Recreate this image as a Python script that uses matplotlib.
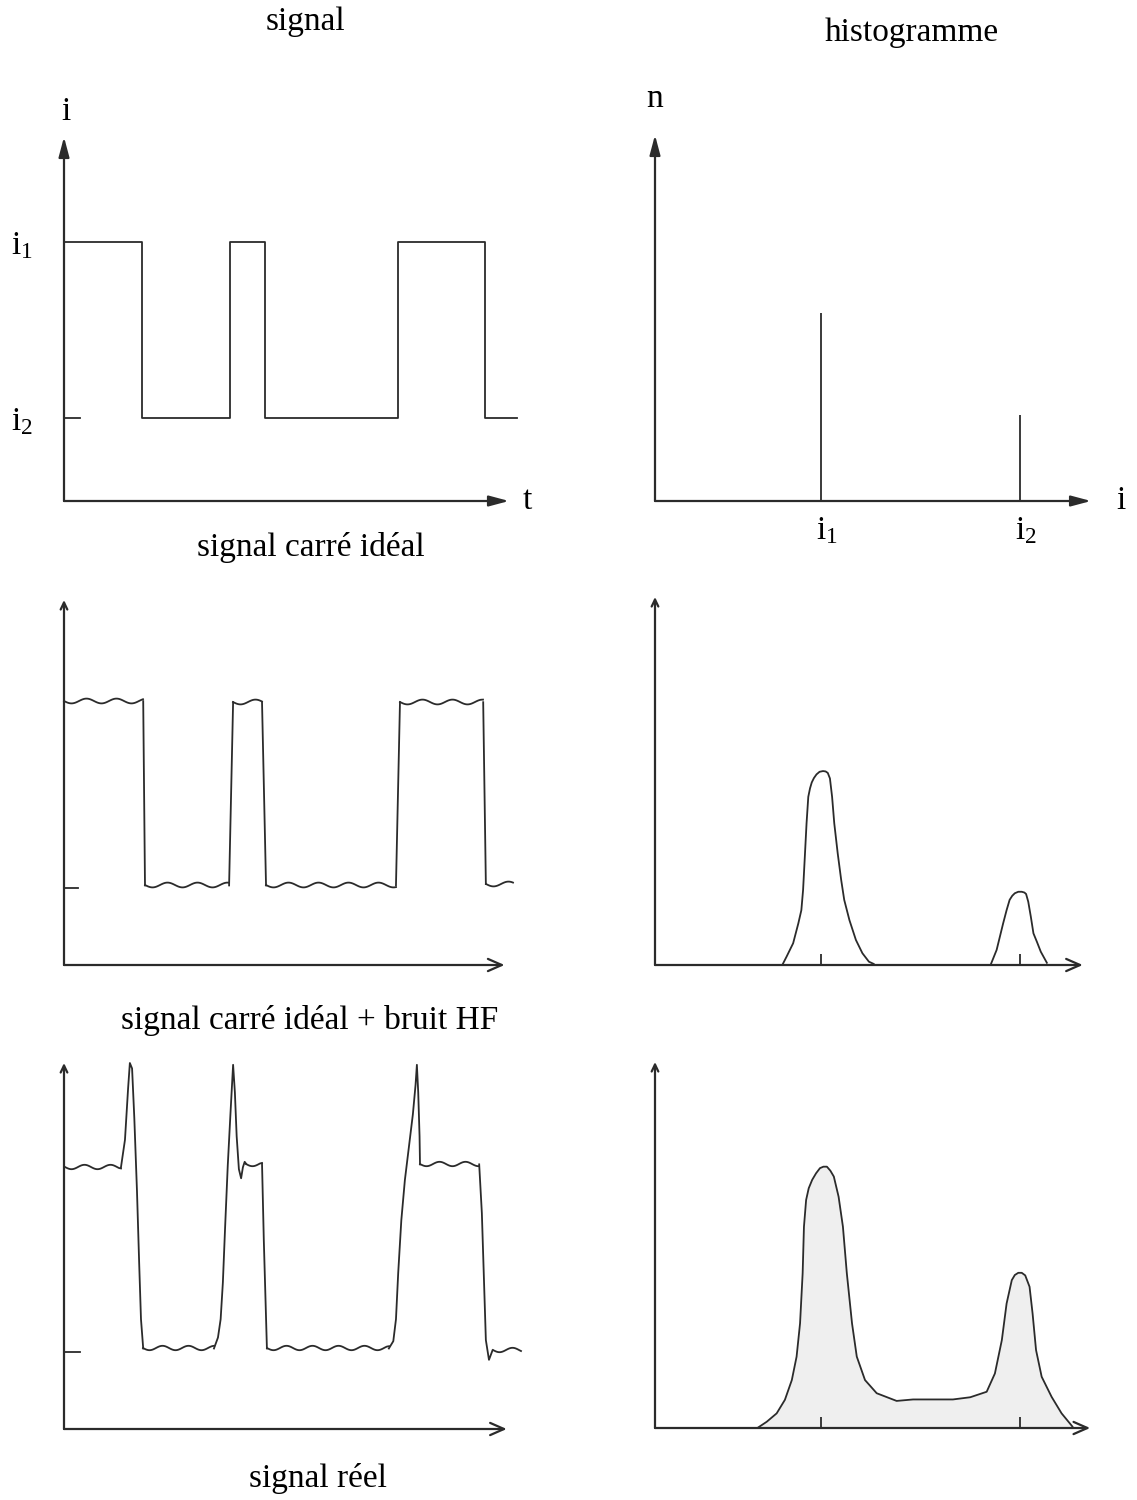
import numpy as np
import matplotlib.pyplot as plt

plt.rcParams['font.family'] = ['Liberation Serif', 'DejaVu Serif']
plt.rcParams['mathtext.fontset'] = 'custom'
plt.rcParams['mathtext.rm'] = 'Liberation Serif'
plt.rcParams['mathtext.it'] = 'Liberation Serif'

W, H = 1137, 1500
ink = '#2b2b2b'

# --- signal carré idéal (t en % de l'axe, i en % de la hauteur) ---
i1_level = 71.2
i2_level = 22.8
carre_t = [0, 17.5, 37.3, 45.2, 75.1, 94.6, 101.8]
carre_i = [i1_level, i2_level, i1_level, i2_level, i1_level, i2_level, i2_level]

# --- signal carré + bruit HF : paliers ---
bruit_debut = [0, 18.2, 38.0, 45.4, 75.5, 94.8]
bruit_fin = [17.8, 37.1, 44.5, 74.6, 94.2, 100.9]
bruit_niveau = [72.3, 21.8, 72.0, 21.8, 72.0, 22.2]
bruit_tick = 21.2

# --- signal réel : paliers + fronts (avec dépassements) ---
reel_debut = [0.2, 17.8, 40.9, 45.6, 80.0, 96.3]
reel_fin = [12.8, 33.7, 44.5, 73.0, 93.3, 102.7]
reel_niveau = [71.5, 22.0, 72.5, 22.0, 72.3, 21.5]
front1_t = [12.8, 13.7, 14.4, 14.8, 15.3, 15.8, 16.4, 16.9, 17.3, 17.8]
front1_i = [71.5, 79.0, 93.0, 100, 98.5, 85.0, 65.0, 45.0, 30.0, 22.0]
front2_t = [33.7, 34.6, 35.2, 35.7, 36.2, 36.8, 37.4, 38.0, 38.4, 38.8, 39.3, 39.8, 40.2, 40.6, 40.9]
front2_i = [22.0, 25.0, 30.0, 40.0, 55.0, 72.0, 86.0, 99.5, 92.0, 80.0, 71.0, 68.5, 71.5, 73.0, 72.5]
front3_t = [44.5, 44.9, 45.6]
front3_i = [72.5, 51.6, 22.0]
front4_t = [73.0, 74.0, 74.6, 75.1, 75.8, 76.6, 77.5, 78.4, 79.0, 79.3, 79.6, 79.9, 80.0]
front4_i = [22.0, 24.0, 30.0, 42.6, 57.0, 68.0, 77.0, 86.0, 94.0, 99.5, 92.0, 80.0, 72.3]
front5_t = [93.3, 93.9, 94.8, 95.5, 96.3]
front5_i = [72.3, 59.0, 24.3, 18.9, 21.5]
reel_tick = 21.0

# --- histogrammes (i en % de l'axe, n en % de la hauteur) ---
pos_i1 = 38.3
pos_i2 = 84.2
n_ideal = [51.4, 23.5]

pic1_i = [29.4, 30.4, 31.9, 33.1, 33.8, 34.2, 34.6, 35.0, 35.4, 35.8, 36.2, 36.7, 37.3, 38.0,
          38.8, 39.4, 39.9, 40.4, 40.9, 41.4, 42.2, 43.0, 43.7, 44.9, 46.4, 47.9, 49.4, 50.5]
pic1_n = [0, 2.3, 5.9, 11.3, 14.9, 20.4, 29.4, 38.5, 45.7, 48.0, 49.6, 50.8, 51.8, 52.5,
          52.7, 52.6, 52.2, 50.7, 45.7, 38.5, 30.3, 23.1, 17.7, 12.2, 6.8, 3.2, 0.9, 0.3]
pic2_i = [77.6, 78.9, 80.4, 81.2, 81.9, 82.5, 83.1, 83.9, 84.7, 85.3, 85.7, 86.2, 86.8,
          87.4, 88.2, 89.1, 90.5]
pic2_n = [0.3, 4.1, 11.3, 14.9, 17.7, 18.8, 19.5, 19.9, 19.9, 19.7, 19.3, 17.2, 13.1,
          8.6, 6.3, 3.6, 0.6]

reel_hist_i = [23.9, 25.8, 28.1, 30.0, 31.6, 32.7, 33.5, 34.1, 34.4, 34.9, 35.5, 36.3, 37.2,
               38.1, 38.9, 39.7, 40.5, 41.3, 42.4, 43.4, 44.3, 45.5, 46.6, 48.5, 51.2, 55.8,
               59.6, 68.8, 72.8, 76.6, 78.5, 80.1, 81.2, 82.4, 83.1, 83.9, 84.7, 85.5, 86.5,
               87.2, 88.0, 89.3, 91.6, 93.9, 96.4]
reel_hist_n = [0.2, 1.7, 4.0, 7.7, 13.1, 19.5, 28.6, 42.3, 55.0, 62.3, 65.5, 67.8, 69.6,
               71.0, 71.4, 71.4, 70.3, 68.7, 63.2, 55.0, 42.3, 28.6, 19.5, 13.1, 9.5, 7.4,
               7.8, 7.8, 8.4, 9.9, 14.9, 24.0, 34.0, 40.4, 41.8, 42.4, 42.4, 41.7, 38.6,
               31.3, 21.3, 14.0, 8.5, 4.0, 0.4]


def box(x0, y0, x1, y1):
    return [x0 / W, 1 - y0 / H, (x1 - x0) / W, (y0 - y1) / H]


def panel(rect, xtip=1.0, style='-|>', small_y=False):
    ax = fig.add_axes(rect)
    ax.set_xlim(0, 100)
    ax.set_ylim(0, 100)
    ax.axis('off')
    ys = '->,head_length=0.25,head_width=0.12' if small_y else style
    ax.annotate('', xy=(xtip, 0), xytext=(0, 0), xycoords='axes fraction',
                arrowprops=dict(arrowstyle=style, lw=1.6, color=ink,
                                shrinkA=0, shrinkB=0, mutation_scale=20))
    ax.annotate('', xy=(0, 1), xytext=(0, 0), xycoords='axes fraction',
                arrowprops=dict(arrowstyle=ys, lw=1.6, color=ink,
                                shrinkA=0, shrinkB=0, mutation_scale=20))
    return ax


def ripple(ax, t0, t1, v, scale, length):
    ln, = ax.plot([t0, t1], [v, v], color=ink, lw=1.3, clip_on=False)
    ln.set_sketch_params(scale=scale, length=length, randomness=1)


fig = plt.figure(figsize=(W / 100, H / 100), dpi=100)

filled = '-|>,head_length=0.6,head_width=0.16'
opened = '->,head_length=0.5,head_width=0.22'
lw = 1.3

# ligne 1 : signal carré idéal
ax = panel(box(64, 501, 509, 137), style=filled)
ax.step(carre_t, carre_i, where='post', color=ink, lw=lw, clip_on=False)
ax.plot([0, 3.6], [i2_level, i2_level], color=ink, lw=lw)
ax.text(0.4, 107, 'i', ha='center', va='center', fontsize=24)
ax.text(-9.4, i1_level - 1, r'$\mathrm{i}_1$', ha='center', va='center', fontsize=24)
ax.text(-9.4, i2_level - 1, r'$\mathrm{i}_2$', ha='center', va='center', fontsize=24)
ax.text(103, 0, 't', ha='left', va='center', fontsize=24)

ax = panel(box(655, 501, 1088, 135), xtip=1.007, style=filled)
ax.vlines([pos_i1, pos_i2], 0, n_ideal, color=ink, lw=lw)
ax.text(0, 110, 'n', ha='center', va='center', fontsize=24)
ax.text(107.5, 0, 'i', ha='center', va='center', fontsize=24)
ax.text(pos_i1 + 1.5, -4, r'$\mathrm{i}_1$', ha='center', va='top', fontsize=24)
ax.text(pos_i2 + 1.5, -4, r'$\mathrm{i}_2$', ha='center', va='top', fontsize=24)

# ligne 2 : signal + bruit HF
ax = panel(box(64, 965, 509, 600), xtip=0.99, style=opened, small_y=True)
for k in range(len(bruit_debut)):
    ripple(ax, bruit_debut[k], bruit_fin[k], bruit_niveau[k], scale=2.4, length=30)
    if k + 1 < len(bruit_debut):
        ax.plot([bruit_fin[k], bruit_debut[k + 1]],
                [bruit_niveau[k], bruit_niveau[k + 1]], color=ink, lw=lw)
ax.plot([0, 3.2], [bruit_tick, bruit_tick], color=ink, lw=lw)

ax = panel(box(655, 965, 1088, 597), xtip=0.988, style=opened, small_y=True)
ax.plot(pic1_i, pic1_n, color=ink, lw=lw)
ax.plot(pic2_i, pic2_n, color=ink, lw=lw)
ax.vlines([pos_i1, pos_i2], 0, 3, color=ink, lw=lw)

# ligne 3 : signal réel
ax = panel(box(64, 1429, 509, 1063), xtip=0.995, style=opened, small_y=True)
for k in range(len(reel_debut)):
    ripple(ax, reel_debut[k], reel_fin[k], reel_niveau[k], scale=2.2, length=26)
for ft, fi in [(front1_t, front1_i), (front2_t, front2_i), (front3_t, front3_i),
               (front4_t, front4_i), (front5_t, front5_i)]:
    ax.plot(ft, fi, color=ink, lw=lw, clip_on=False, solid_joinstyle='round')
ax.plot([0, 3.5], [reel_tick, reel_tick], color=ink, lw=lw)

ax = panel(box(655, 1428, 1088, 1062), xtip=1.005, style=opened, small_y=True)
ax.fill_between(reel_hist_i, reel_hist_n, color='#efefef', lw=0)
ax.plot(reel_hist_i, reel_hist_n, color=ink, lw=lw, solid_joinstyle='round')
ax.vlines([pos_i1, pos_i2], 0, 3, color=ink, lw=lw)

# titres
fs = 24
fig.text(305 / W, 1 - 22 / H, 'signal', ha='center', va='center', fontsize=fs)
fig.text(912 / W, 1 - 33 / H, 'histogramme', ha='center', va='center', fontsize=fs)
fig.text(311 / W, 1 - 548 / H, 'signal carré idéal', ha='center', va='center', fontsize=fs)
fig.text(310 / W, 1 - 1020 / H, 'signal carré idéal + bruit HF', ha='center', va='center', fontsize=fs)
fig.text(318 / W, 1 - 1478 / H, 'signal réel', ha='center', va='center', fontsize=fs)

fig.savefig('out.png', dpi=100)
